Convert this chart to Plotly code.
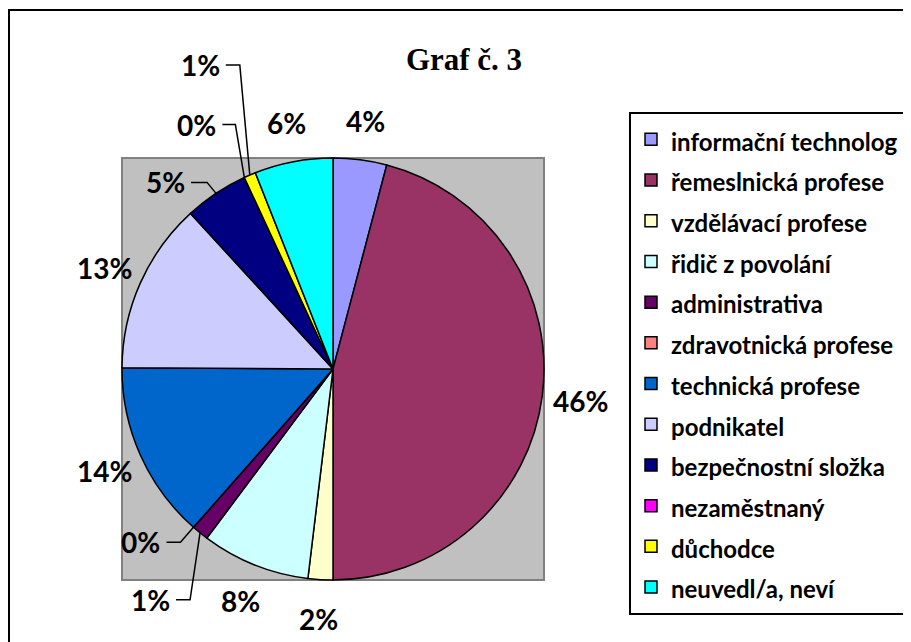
import math
import plotly.graph_objects as go

# ---- data ----
categories = ["informační technolog", "řemeslnická profese", "vzdělávací profese",
              "řidič z povolání", "administrativa", "zdravotnická profese",
              "technická profese", "podnikatel", "bezpečnostní složka",
              "nezaměstnaný", "důchodce", "neuvedl/a, neví"]
shares = [4.1, 45.9, 1.9, 8.3, 1.3, 0.0, 13.6, 13.1, 4.9, 0.0, 0.9, 6.0]
title_text = "Graf č. 3"

# ---- style ----
colors = ["#9999FF", "#993366", "#FFFFCC", "#CCFFFF", "#660066", "#FF8080",
          "#0066CC", "#CCCCFF", "#000080", "#FF00FF", "#FFFF00", "#00FFFF"]
OFF = 8                      # page body margin of the html page
W, H = 911 - OFF, 642 - OFF  # figure size
PX0, PY0, PX1, PY1 = 122, 158, 544, 580   # square plot area in screen px
LABEL_FONT = dict(family="Lato", size=28, color="black", weight="bold")
# leader-line labels: slice index -> (text right dx, text dy, elbow dx) relative to slice edge point
leaders = {4: (-28, 67, -10), 5: (-31, 15, -13), 8: (-29, -11, -9),
           9: (-26, -53, -9), 10: (-28, -110, -10)}


def px(x):
    return (x - OFF) / W


def py(y):
    return 1 - (y - OFF) / H


cx, cy = (PX0 + PX1) / 2, (PY0 + PY1) / 2
R = (PX1 - PX0) / 2
total = sum(shares)

fig = go.Figure()
fig.add_trace(go.Pie(
    labels=[f'<span style="font-size:24px">{c}</span>' for c in categories],
    values=shares,
    sort=False,
    direction="clockwise",
    rotation=0,
    textinfo="none",
    hoverinfo="label+percent",
    marker=dict(colors=colors, line=dict(color="black", width=1.5)),
    domain=dict(x=[px(PX0), px(PX1)], y=[py(PY1), py(PY0)]),
))

annotations = []
shapes = [
    # outer frame
    dict(type="rect", xref="paper", yref="paper", x0=px(9), x1=px(908),
         y0=-0.05, y1=py(10), line=dict(color="black", width=2), layer="below"),
    # grey plot area
    dict(type="rect", xref="paper", yref="paper", x0=px(PX0), x1=px(PX1),
         y0=py(PY1), y1=py(PY0), fillcolor="#C0C0C0",
         line=dict(color="#808080", width=2), layer="below"),
]

cum = 0.0
for i, v in enumerate(shares):
    frac_mid = (cum + v / 2) / total
    cum += v
    ang = 2 * math.pi * frac_mid
    s, c = math.sin(ang), math.cos(ang)
    txt = f"{round(v / total * 100):.0f}%"
    if i in leaders:
        ex, ey = cx + R * s, cy - R * c
        tdx, tdy, edx = leaders[i]
        tx, ty = ex + tdx, ey + tdy
        annotations.append(dict(x=px(tx), y=py(ty), xref="paper", yref="paper",
                                text=txt, showarrow=False, xanchor="right",
                                yanchor="middle", font=LABEL_FONT))
        shapes.append(dict(type="path", xref="paper", yref="paper",
                           path=f"M {px(tx + 4)} {py(ty)} L {px(ex + edx)} {py(ty)} L {px(ex)} {py(ey)}",
                           line=dict(color="black", width=1.5)))
    else:
        rl = R + 39
        tx, ty = cx + rl * s, cy - rl * c
        annotations.append(dict(x=px(tx), y=py(ty), xref="paper", yref="paper",
                                text=txt, showarrow=False, xanchor="center",
                                yanchor="middle", font=LABEL_FONT))

fig.update_layout(
    width=W, height=H,
    margin=dict(l=0, r=0, t=0, b=0),
    paper_bgcolor="white",
    plot_bgcolor="white",
    title=dict(text=title_text, x=px(464), y=py(59), xanchor="center", yanchor="middle",
               xref="paper", yref="paper",
               font=dict(family="Liberation Serif", size=31, color="black", weight="bold")),
    legend=dict(x=px(629), y=py(112), xanchor="left", yanchor="top",
                bgcolor="white", bordercolor="black", borderwidth=2,
                font=dict(family="Lato", size=29, color="black", weight="bold"),
                traceorder="normal"),
    showlegend=True,
    annotations=annotations,
    shapes=shapes,
)

fig.write_html("out.html")
